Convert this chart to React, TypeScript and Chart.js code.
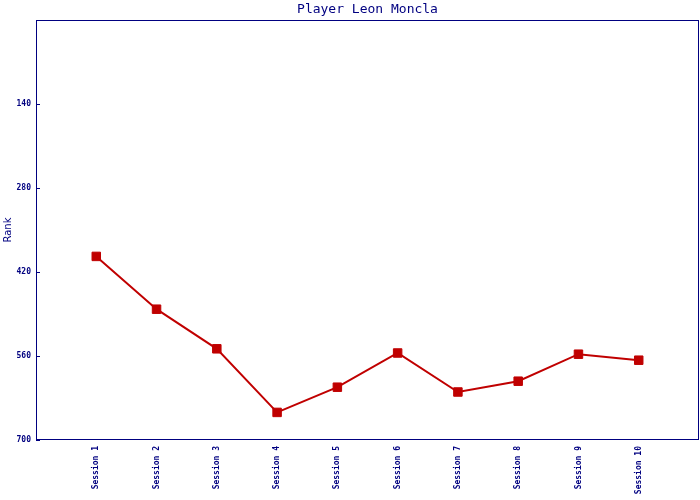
import React, { useEffect, useRef } from "react";
import { Chart, registerables } from "chart.js";

Chart.register(...registerables);

const categories = ["", "Session 1", "Session 2", "Session 3", "Session 4", "Session 5", "Session 6", "Session 7", "Session 8", "Session 9", "Session 10", ""];
const rankValues = [null, 394, 482, 548, 654, 612, 555, 620, 602, 557, 567, null];
const yTickValues = [140, 280, 420, 560, 700];
const titleText = "Player Leon Moncla";
const yTitle = "Rank";

const NAVY = "#000080";
const RED = "#C00000";

const framePlugin = {
  id: "frame",
  afterDraw(chart: any) {
    const { ctx, chartArea } = chart;
    const y = chart.scales.y;
    ctx.save();
    ctx.strokeStyle = NAVY;
    ctx.lineWidth = 1;
    ctx.strokeRect(Math.round(chartArea.left) + 0.5, Math.round(chartArea.top) + 0.5, Math.round(chartArea.right - chartArea.left) - 1, Math.round(chartArea.bottom - chartArea.top) - 1);
    ctx.beginPath();
    for (const v of yTickValues) {
      const py = Math.round(y.getPixelForValue(v)) + 0.5;
      ctx.moveTo(chartArea.left, py);
      ctx.lineTo(chartArea.left + 4, py);
    }
    ctx.stroke();
    ctx.restore();
  },
};

function zeroPad(s: any) {
  s.paddingLeft = 0;
  s.paddingRight = 0;
  s.paddingTop = 0;
  s.paddingBottom = 0;
}

export default function App() {
  const ref = useRef<HTMLCanvasElement | null>(null);
  useEffect(() => {
    if (!ref.current) return;
    const chart = new Chart(ref.current, {
      type: "line",
      data: {
        labels: categories,
        datasets: [
          {
            data: rankValues as any,
            borderColor: RED,
            backgroundColor: RED,
            borderWidth: 2,
            pointStyle: "rect",
            pointRadius: 6,
            pointBorderWidth: 1,
            pointBackgroundColor: RED,
            pointBorderColor: RED,
            tension: 0,
            spanGaps: false,
          },
        ],
      },
      options: {
        responsive: false,
        animation: false,
        layout: { autoPadding: false, padding: { left: 0, right: 1, top: 0, bottom: 0 } },
        plugins: {
          legend: { display: false },
          tooltip: { enabled: false },
          title: {
            display: true,
            fullSize: false,
            text: titleText,
            color: NAVY,
            font: { family: "DejaVu Sans Mono", size: 13, weight: "normal", lineHeight: "16px" },
            padding: { top: 2, bottom: 2 },
          },
        },
        scales: {
          x: {
            type: "category",
            offset: false,
            grid: { display: false, drawTicks: false },
            border: { display: false },
            ticks: {
              autoSkip: false,
              minRotation: 90,
              maxRotation: 90,
              padding: 6,
              color: NAVY,
              font: { family: "DejaVu Sans Mono", size: 8, weight: "bold" },
            },
            afterFit(s: any) {
              s.height = 60;
              zeroPad(s);
            },
          },
          y: {
            type: "linear",
            reverse: true,
            min: 0,
            max: 700,
            grid: { display: false, drawTicks: false },
            border: { display: false },
            ticks: {
              stepSize: 140,
              padding: 5,
              color: NAVY,
              font: { family: "DejaVu Sans Mono", size: 8, weight: "bold" },
              callback: (v: any) => (v === 0 ? "" : String(v)),
            },
            title: {
              display: true,
              text: yTitle,
              color: NAVY,
              font: { family: "DejaVu Sans", size: 10 },
              padding: { top: 2, bottom: 0 },
            },
            afterFit(s: any) {
              s.width = 36;
              zeroPad(s);
            },
          },
        },
      },
      plugins: [framePlugin],
    });
    return () => chart.destroy();
  }, []);
  return (
    <div style={{ position: "fixed", left: 0, top: 0, width: 700, height: 500, background: "#fff" }}>
      <canvas ref={ref} width={700} height={500} style={{ display: "block" }} />
    </div>
  );
}
